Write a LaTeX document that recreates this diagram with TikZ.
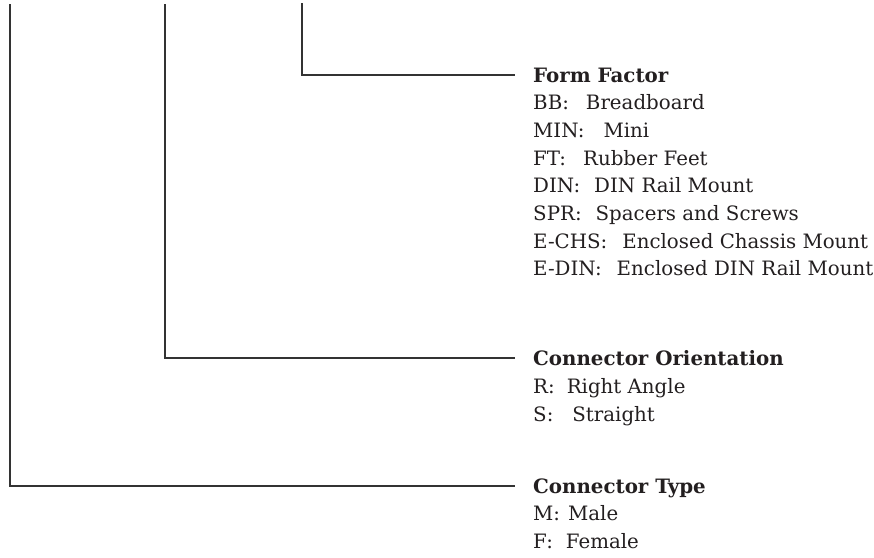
\documentclass[tikz,border=0pt]{standalone}
\usepackage{fontspec}
\setmainfont{DejaVu Serif}
\usetikzlibrary{positioning}

\definecolor{leadgray}{HTML}{333333}
\definecolor{textblack}{HTML}{231F20}
\newcommand{\legendsize}{\fontsize{19.8}{24}\selectfont}

\tikzset{
    leader/.style={draw=leadgray, line width=2.6pt},
    head/.style={font=\legendsize\bfseries, text=textblack, anchor=west,
        inner xsep=18pt, inner ysep=0pt, text height=14.4pt, text depth=0pt},
    entry/.style={font=\legendsize, text=textblack, anchor=base west, inner sep=0pt},
}

\begin{document}
\begin{tikzpicture}[x=1pt, y=-1pt]
    \useasboundingbox (0,0) rectangle (874,557);

    % Form Factor
    \node[head] (ff) at (515,75) {Form Factor};
    \foreach \code/\desc/\gap [count=\i] in {BB/Breadboard/17, MIN/Mini/19,
        FT/Rubber Feet/17, DIN/DIN Rail Mount/14, SPR/Spacers and Screws/14,
        E-CHS/Enclosed Chassis Mount/15, E-DIN/Enclosed DIN Rail Mount/15}
        \node[entry] (ff\i) at (533,{82+27.7*\i}) {\code:\hspace{\gap pt}\desc};
    \coordinate (ffTop) at (302,3);
    \draw[leader] (ffTop) |- (ff.west);

    % Connector Orientation
    \node[head] (co) at (515,358) {Connector Orientation};
    \foreach \code/\desc/\gap [count=\i] in {R/Right Angle/12, S/Straight/19}
        \node[entry] (co\i) at (533,{366+27.7*\i}) {\code:\hspace{\gap pt}\desc};
    \coordinate (coTop) at (165,4);
    \draw[leader] (coTop) |- (co.west);

    % Connector Type
    \node[head] (ct) at (515,486) {Connector Type};
    \foreach \code/\desc/\gap [count=\i] in {M/Male/8, F/Female/13}
        \node[entry] (ct\i) at (533,{493+27.7*\i}) {\code:\hspace{\gap pt}\desc};
    \coordinate (ctTop) at (10,4);
    \draw[leader] (ctTop) |- (ct.west);
\end{tikzpicture}
\end{document}
